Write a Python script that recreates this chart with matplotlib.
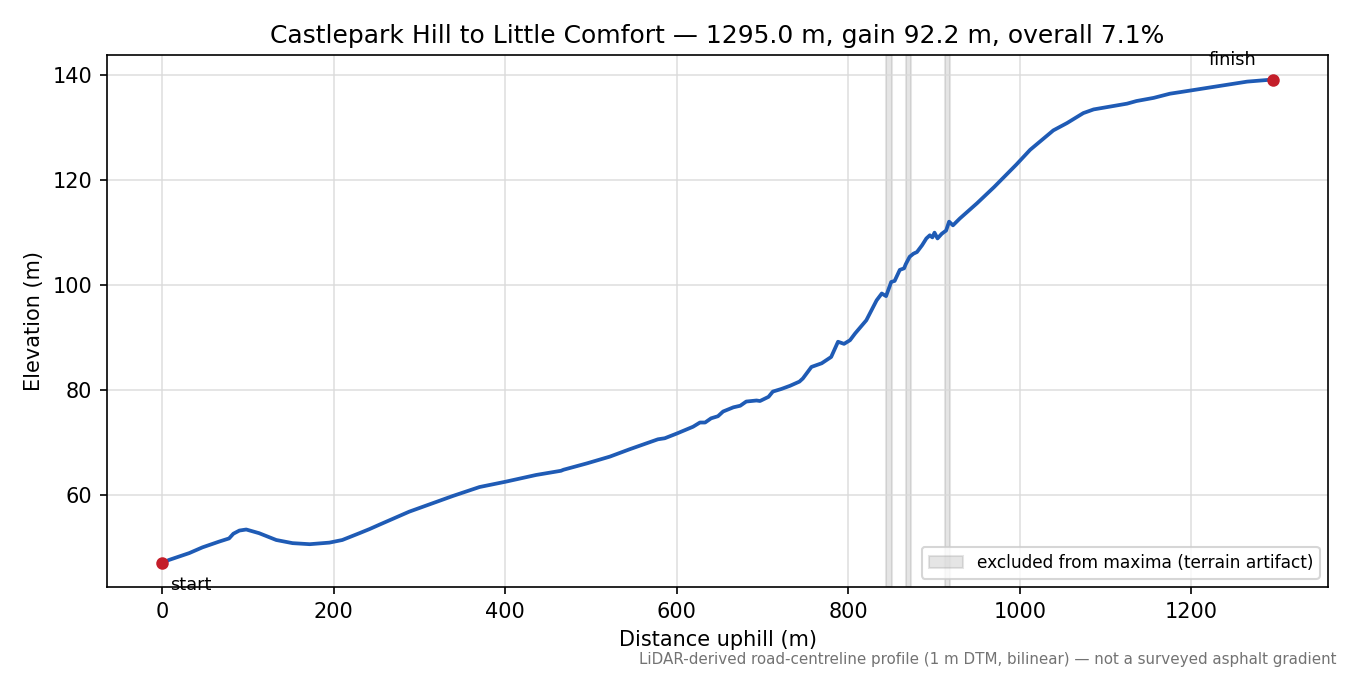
import matplotlib
matplotlib.use('Agg')
import matplotlib.pyplot as plt

# Profil d'altitude le long de la route
distance = [0, 8, 31.5, 47, 66.5, 78, 83, 90, 98, 113, 133, 152, 172, 195, 210, 230,
            242, 253, 288, 339, 370, 400, 436, 465, 468, 495, 522, 545, 578, 586, 600,
            619, 627, 633, 640, 648, 654, 666, 674, 681, 693, 697, 707, 712, 722, 732,
            743, 747, 757, 769, 780, 788, 795, 802, 808, 821, 827, 833, 839, 844, 850,
            854, 860, 865, 867, 871.5, 876, 880, 886, 891, 895, 898, 900.5, 904, 909,
            914, 917.5, 922, 930, 950, 970, 996, 1008, 1012, 1039, 1055, 1074, 1086,
            1125, 1136, 1156, 1175, 1187, 1226, 1265, 1295]
elevation = [47.0, 47.6, 48.9, 50.0, 51.1, 51.7, 52.6, 53.2, 53.4, 52.7, 51.4, 50.8, 50.6,
             50.9, 51.4, 52.7, 53.5, 54.3, 56.8, 59.8, 61.5, 62.5, 63.8, 64.6, 64.8, 66.0,
             67.3, 68.7, 70.6, 70.8, 71.7, 73.0, 73.8, 73.8, 74.6, 75.0, 75.9, 76.7, 77.0,
             77.8, 78.0, 77.9, 78.7, 79.7, 80.2, 80.8, 81.6, 82.2, 84.4, 85.1, 86.3, 89.2,
             88.8, 89.5, 90.8, 93.3, 95.2, 97.1, 98.4, 97.9, 100.6, 100.8, 102.9, 103.2,
             104.0, 105.4, 106.0, 106.3, 107.6, 108.9, 109.5, 109.1, 110.0, 108.9, 109.8,
             110.4, 112.1, 111.4, 112.7, 115.6, 118.7, 123.0, 125.1, 125.8, 129.5, 130.9,
             132.8, 133.5, 134.6, 135.1, 135.7, 136.5, 136.8, 137.8, 138.8, 139.2]

# zones exclues (artefacts du terrain)
excluded = [(844.5, 850.5), (867.0, 873.0), (913.0, 918.5)]

fig, ax = plt.subplots(figsize=(9, 4.5), dpi=150)

for i, (a, b) in enumerate(excluded):
    ax.axvspan(a, b, color='0.5', alpha=0.2,
               label='excluded from maxima (terrain artifact)' if i == 0 else None)

ax.plot(distance, elevation, color='#1f5bb5', linewidth=1.8)
ax.plot([distance[0], distance[-1]], [elevation[0], elevation[-1]], 'o',
        color='#c41e2a', markersize=5, zorder=5)

ax.annotate('start', (distance[0], elevation[0]), xytext=(4, -6),
            textcoords='offset points', ha='left', va='top', fontsize=8.5)
ax.annotate('finish', (distance[-1], elevation[-1]), xytext=(-8, 5),
            textcoords='offset points', ha='right', va='bottom', fontsize=8.5)

ax.set_title('Castlepark Hill to Little Comfort — 1295.0 m, gain 92.2 m, overall 7.1%',
             fontsize=12)
ax.set_xlabel('Distance uphill (m)')
ax.set_ylabel('Elevation (m)')
ax.grid(True, color='0.85', linewidth=0.8, alpha=0.8)
ax.legend(loc='lower right', fontsize=8.2)

fig.text(0.99, 0.012, 'LiDAR-derived road-centreline profile (1 m DTM, bilinear) — not a surveyed asphalt gradient',
         ha='right', va='bottom', fontsize=7.25, color='0.45')

fig.subplots_adjust(left=0.079, right=0.984, top=0.918, bottom=0.13)
plt.savefig('out.png')
